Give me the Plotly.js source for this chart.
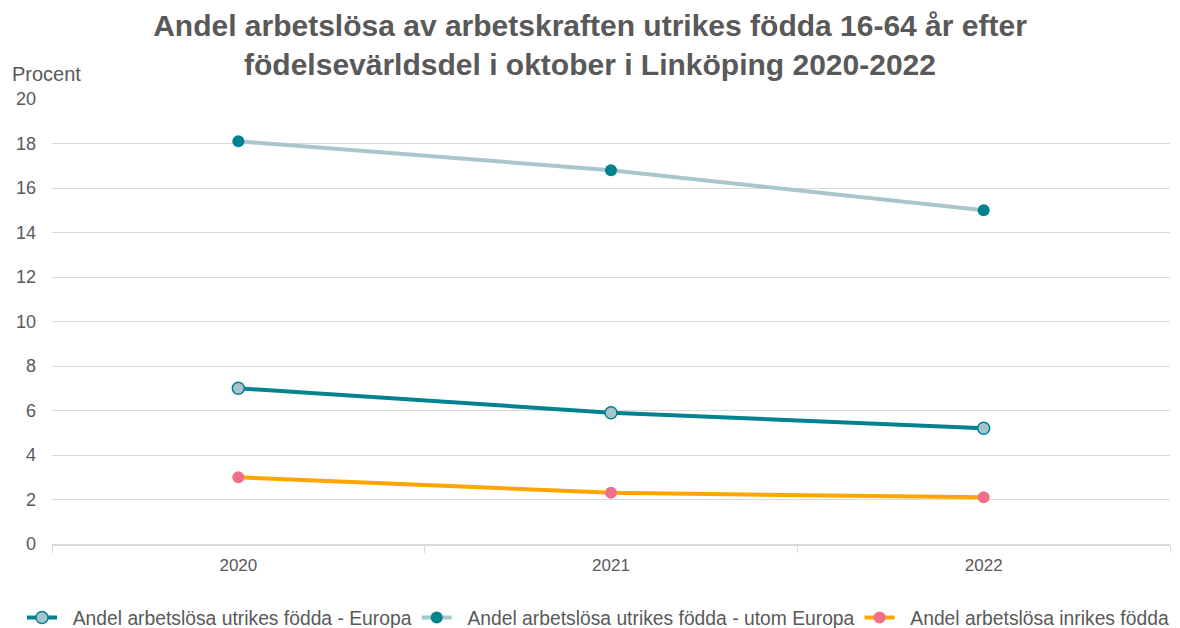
<!DOCTYPE html>
<html>
<head>
<meta charset="utf-8">
<script src="https://cdn.plot.ly/plotly-3.0.1.min.js"></script>
<style>html,body{margin:0;padding:0;background:#fff}#chart{width:1180px;height:628px}</style>
</head>
<body>
<div id="chart"></div>
<script>
const years = ["2020", "2021", "2022"];
const europa = [7.0, 5.9, 5.2];
const utomEuropa = [18.1, 16.8, 15.0];
const inrikes = [3.0, 2.3, 2.1];
const seriesNames = [
  "Andel arbetslösa utrikes födda - Europa",
  "Andel arbetslösa utrikes födda - utom Europa",
  "Andel arbetslösa inrikes födda"
];
const yTicks = [0, 2, 4, 6, 8, 10, 12, 14, 16, 18, 20];

const fam = '"Liberation Sans", Arial, sans-serif';
const pad = "\u00A0\u00A0";

const traces = [
  {x: years, y: europa, name: pad + seriesNames[0], type: "scatter", mode: "lines+markers",
   line: {color: "#00838F", width: 4},
   marker: {size: 12, color: "#A7C4CB", line: {color: "#00838F", width: 1.5}}},
  {x: years, y: utomEuropa, name: pad + seriesNames[1], type: "scatter", mode: "lines+markers",
   line: {color: "#A8C6CC", width: 4},
   marker: {size: 12, color: "#00838F", line: {color: "#00838F", width: 0}}},
  {x: years, y: inrikes, name: pad + seriesNames[2], type: "scatter", mode: "lines+markers",
   line: {color: "#FFA500", width: 4},
   marker: {size: 12, color: "#F0708A", line: {color: "#F0708A", width: 0}}}
];

const layout = {
  width: 1180, height: 628,
  margin: {l: 52, r: 10, t: 99, b: 84, autoexpand: false},
  paper_bgcolor: "#fff", plot_bgcolor: "#fff",
  font: {family: fam, color: "#595959", size: 16},
  title: {
    text: "Andel arbetslösa av arbetskraften utrikes födda 16-64 år efter<br>födelsevärldsdel i oktober i Linköping 2020-2022",
    font: {family: fam, size: 30, color: "#595959", weight: "bold"},
    x: 0.5, xanchor: "center", xref: "container",
    y: 1 - 35.5/628, yanchor: "middle", yref: "container"
  },
  xaxis: {
    type: "category", range: [-0.5, 2.5],
    showgrid: false, zeroline: false,
    showline: true, linecolor: "#D9D9D9", linewidth: 1.5,
    ticks: "outside", tickson: "boundaries", ticklen: 7, tickcolor: "#D9D9D9",
    ticklabelstandoff: 5,
    tickfont: {family: fam, size: 17, color: "#595959"}
  },
  yaxis: {
    range: [0, 20], tickvals: yTicks, ticktext: yTicks.map(String),
    showgrid: true, gridcolor: "#D9D9D9", gridwidth: 1,
    zeroline: false, showline: false, ticks: "",
    ticklabelstandoff: 15,
    tickfont: {family: fam, size: 18, color: "#595959"}
  },
  legend: {
    orientation: "h", x: (22 - 52) / 1118, xanchor: "left",
    y: (544 - 618) / 445, yanchor: "middle",
    font: {family: fam, size: 19.3, color: "#595959"},
    tracegroupgap: 0
  },
  annotations: [{
    text: "Procent", xref: "paper", yref: "paper",
    x: (10 - 52) / 1118, xanchor: "left", y: (544 - 74) / 445, yanchor: "middle",
    showarrow: false, font: {family: fam, size: 20, color: "#595959"}
  }],
  showlegend: true
};

Plotly.newPlot("chart", traces, layout, {displayModeBar: false, staticPlot: true});
</script>
</body>
</html>
